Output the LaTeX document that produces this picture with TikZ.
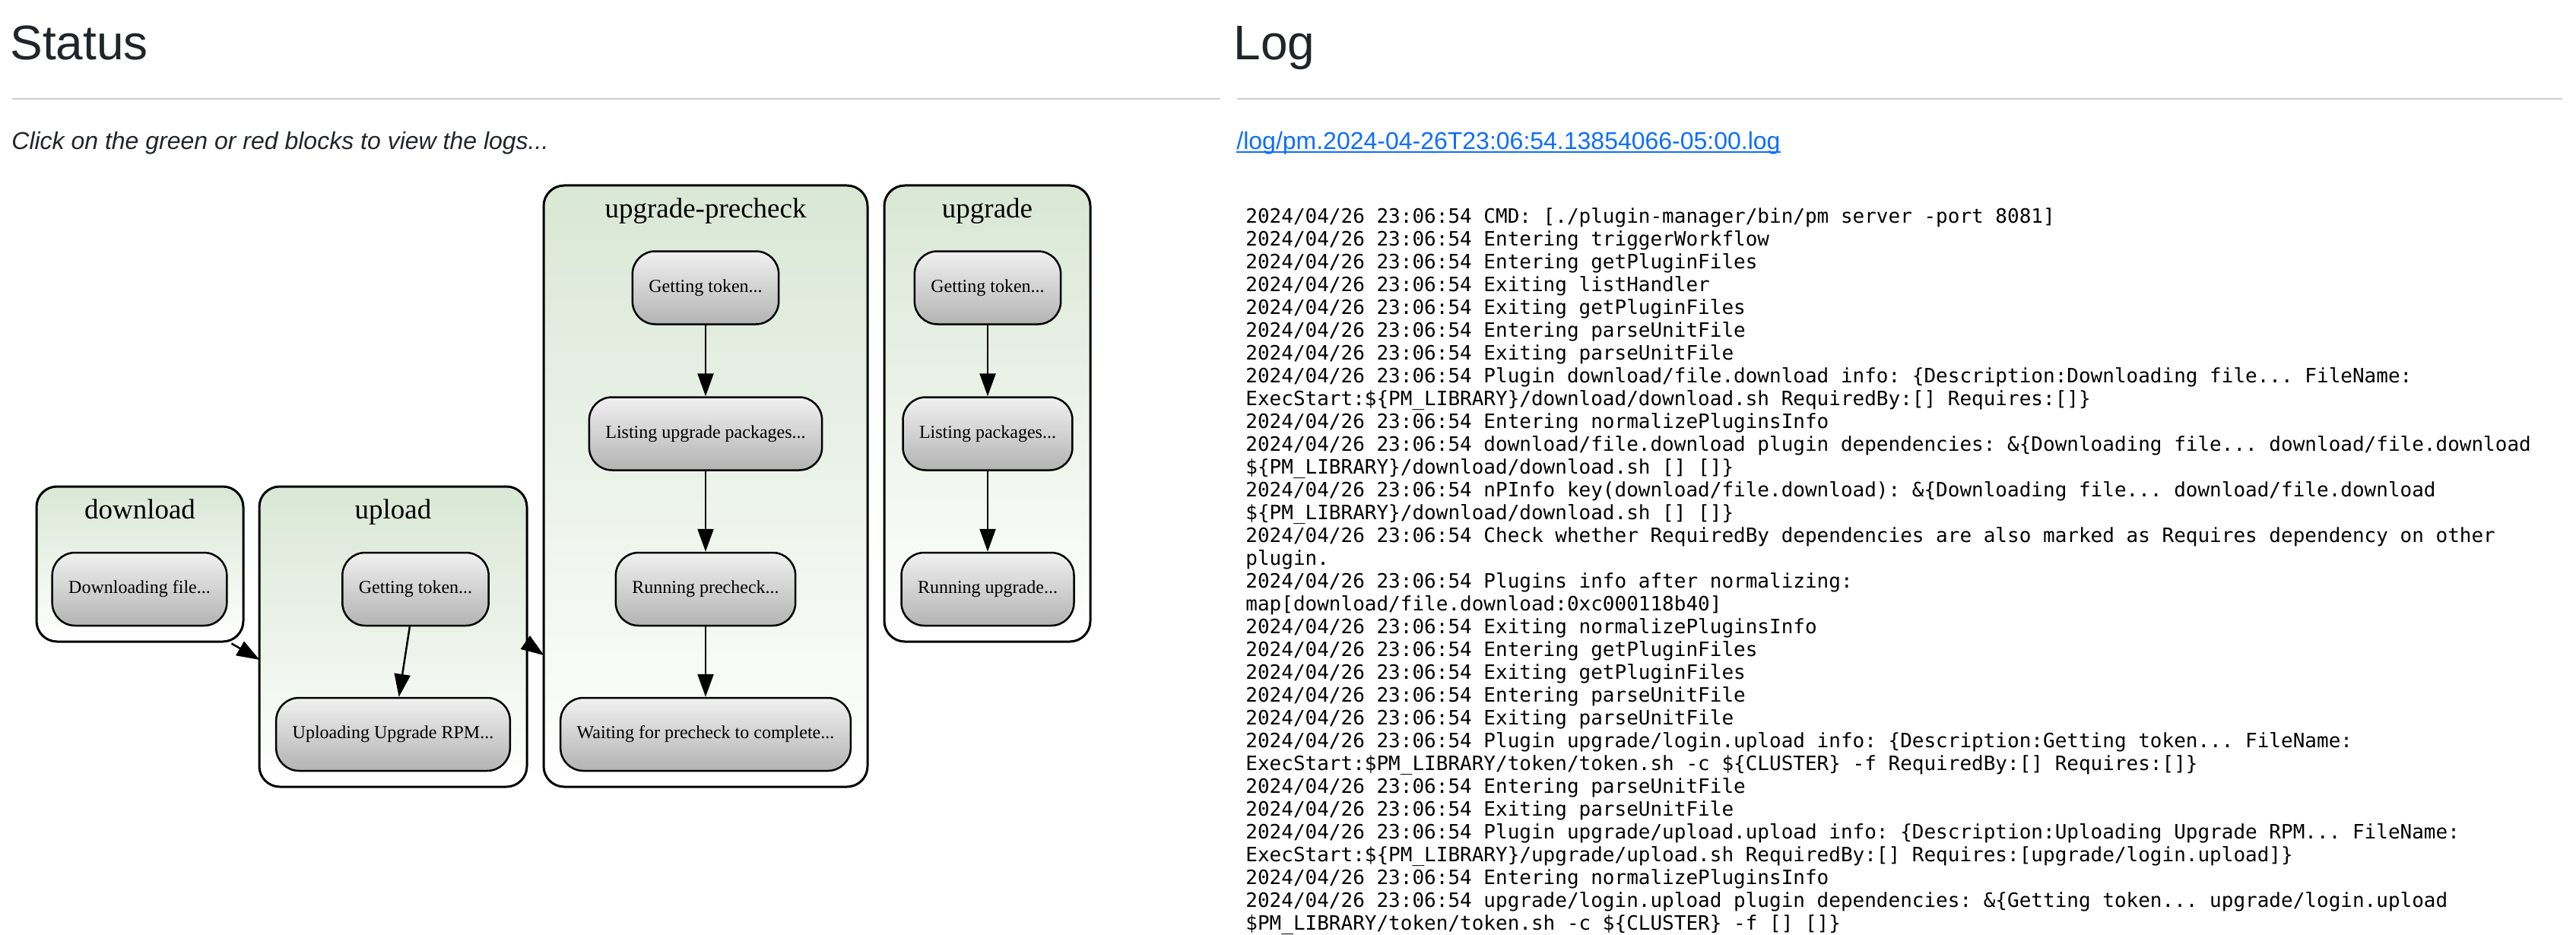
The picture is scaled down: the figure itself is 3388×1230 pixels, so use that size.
\documentclass[tikz,border=0pt]{standalone}
\usepackage{fontspec}
\usepackage{xcolor}
\usepackage{tikz}
\usetikzlibrary{arrows.meta,calc}
\newfontfamily\gvfont{Liberation Serif}
\newfontfamily\pagefont{Liberation Sans}
\newfontfamily\logfont{DejaVu Sans Mono}
\newcommand{\tdots}{...}
\definecolor{pagetext}{HTML}{212529}
\definecolor{rulegray}{HTML}{CBCCCD}
\definecolor{linkblue}{HTML}{0D6EFD}
\definecolor{stagetop}{HTML}{D9E7D5}
\definecolor{jobtop}{HTML}{F1F1F1}
\definecolor{jobbot}{HTML}{B3B3B3}
\begin{document}
\begin{tikzpicture}[x=0.5pt,y=-0.5pt,
  heading/.style={anchor=base west,inner sep=0pt,text=pagetext,font=\pagefont\fontsize{32pt}{38pt}\selectfont},
  note/.style={anchor=base west,inner sep=0pt,text=pagetext,font=\pagefont\itshape\fontsize{16pt}{19pt}\selectfont},
  weblink/.style={anchor=base west,inner sep=0pt,text=linkblue,font=\pagefont\fontsize{16pt}{19pt}\selectfont},
  logline/.style={anchor=base west,inner sep=0pt,text=black,font=\logfont\fontsize{13pt}{15pt}\selectfont\frenchspacing},
  hrule/.style={rulegray,line width=1pt},
  stage/.style={draw,line width=1.5pt,rounded corners=13.5pt,top color=stagetop,bottom color=white,inner sep=0pt},
  stagelabel/.style={anchor=base,inner sep=0pt,font=\gvfont\fontsize{18.5pt}{22pt}\selectfont},
  job/.style={draw,line width=1.25pt,rounded corners=15pt,top color=jobtop,bottom color=jobbot,minimum height=48pt,inner xsep=10.75pt,font=\gvfont\fontsize{12pt}{14pt}\selectfont},
  edge/.style={line width=1.25pt,-{Triangle[length=15pt,width=10.5pt]}}]
\fill[white] (0,0) rectangle (3388,1230);
\useasboundingbox (0,0) rectangle (3388,1230);

\node[heading] (status) at (13,79) {Status};
\node[heading] (logtitle) at (1622,79) {Log};
\draw[hrule] (16,130) -- (1605,130);
\draw[hrule] (1627,130) -- (3370,130);
\node[note] (clicknote) at (15,197) {Click on the green or red blocks to view the logs...};
\node[weblink] (logfile) at (1626,197) {/log/pm.2024-04-26T23:06:54.13854066-05:00.log};
\draw[linkblue,line width=1pt] ([yshift=-1.6pt]logfile.base west) -- ([yshift=-1.6pt]logfile.base east);

\node[stage,minimum width=136pt,minimum height=102pt] (download) at (184,742) {};
\node[stage,minimum width=176pt,minimum height=197.5pt] (upload) at (517,837.5) {};
\node[stage,minimum width=213pt,minimum height=395.5pt] (precheck) at (928,639.5) {};
\node[stage,minimum width=135.5pt,minimum height=300pt] (upgrade) at (1298.5,544) {};
\node[stagelabel] (downloadlabel) at ($(download.north)+(0,44)$) {download};
\node[stagelabel] (uploadlabel) at ($(upload.north)+(0,44)$) {upload};
\node[stagelabel] (prechecklabel) at ($(precheck.north)+(0,44)$) {upgrade-precheck};
\node[stagelabel] (upgradelabel) at ($(upgrade.north)+(0,44)$) {upgrade};

\node[job] (dlfile) at (183.5,775) {Downloading file...};
\node[job] (uptoken) at (546.5,775) {Getting token...};
\node[job] (uprpm) at (517,966) {Uploading Upgrade RPM...};
\node[job] (pctoken) at (928,378.5) {Getting token...};
\node[job] (pclist) at (928,570.5) {Listing upgrade packages...};
\node[job] (pcrun) at (928,775) {Running precheck...};
\node[job] (pcwait) at (928,966) {Waiting for precheck to complete...};
\node[job] (ugtoken) at (1299,378.5) {Getting token...};
\node[job] (uglist) at (1299,570.5) {Listing packages...};
\node[job] (ugrun) at (1299,775) {Running upgrade...};

\coordinate (dlout) at ($(download.south east)+(-17,1)$);
\coordinate (upin) at ($(upload.west)+(2,30.5)$);
\coordinate (upout) at ($(upload.east)+(-3,8)$);
\coordinate (pcin) at ($(precheck.west)+(2,222.5)$);
\draw[edge] (dlout) -- (upin);
\draw[edge] (upout) -- (pcin);
\draw[edge] (uptoken) -- (uprpm);
\draw[edge] (pctoken) -- (pclist);
\draw[edge] (pclist) -- (pcrun);
\draw[edge] (pcrun) -- (pcwait);
\draw[edge] (ugtoken) -- (uglist);
\draw[edge] (uglist) -- (ugrun);

\foreach \msg [count=\i from 0] in {
  {2024/04/26 23:06:54 CMD: [./plugin-manager/bin/pm server -port 8081]},
  {2024/04/26 23:06:54 Entering triggerWorkflow},
  {2024/04/26 23:06:54 Entering getPluginFiles},
  {2024/04/26 23:06:54 Exiting listHandler},
  {2024/04/26 23:06:54 Exiting getPluginFiles},
  {2024/04/26 23:06:54 Entering parseUnitFile},
  {2024/04/26 23:06:54 Exiting parseUnitFile},
  {2024/04/26 23:06:54 Plugin download/file.download info: \{Description:Downloading file\tdots{} FileName:},
  {ExecStart:\$\{PM\_LIBRARY\}/download/download.sh RequiredBy:[] Requires:[]\}},
  {2024/04/26 23:06:54 Entering normalizePluginsInfo},
  {2024/04/26 23:06:54 download/file.download plugin dependencies: \&\{Downloading file\tdots{} download/file.download},
  {\$\{PM\_LIBRARY\}/download/download.sh [] []\}},
  {2024/04/26 23:06:54 nPInfo key(download/file.download): \&\{Downloading file\tdots{} download/file.download},
  {\$\{PM\_LIBRARY\}/download/download.sh [] []\}},
  {2024/04/26 23:06:54 Check whether RequiredBy dependencies are also marked as Requires dependency on other},
  {plugin.},
  {2024/04/26 23:06:54 Plugins info after normalizing:},
  {map[download/file.download:0xc000118b40]},
  {2024/04/26 23:06:54 Exiting normalizePluginsInfo},
  {2024/04/26 23:06:54 Entering getPluginFiles},
  {2024/04/26 23:06:54 Exiting getPluginFiles},
  {2024/04/26 23:06:54 Entering parseUnitFile},
  {2024/04/26 23:06:54 Exiting parseUnitFile},
  {2024/04/26 23:06:54 Plugin upgrade/login.upload info: \{Description:Getting token\tdots{} FileName:},
  {ExecStart:\$PM\_LIBRARY/token/token.sh -c \$\{CLUSTER\} -f RequiredBy:[] Requires:[]\}},
  {2024/04/26 23:06:54 Entering parseUnitFile},
  {2024/04/26 23:06:54 Exiting parseUnitFile},
  {2024/04/26 23:06:54 Plugin upgrade/upload.upload info: \{Description:Uploading Upgrade RPM\tdots{} FileName:},
  {ExecStart:\$\{PM\_LIBRARY\}/upgrade/upload.sh RequiredBy:[] Requires:[upgrade/login.upload]\}},
  {2024/04/26 23:06:54 Entering normalizePluginsInfo},
  {2024/04/26 23:06:54 upgrade/login.upload plugin dependencies: \&\{Getting token\tdots{} upgrade/login.upload},
  {\$PM\_LIBRARY/token/token.sh -c \$\{CLUSTER\} -f [] []\}}}
  \node[logline] (log\i) at (1638,{293+30*\i}) {\msg};
\end{tikzpicture}
\end{document}
